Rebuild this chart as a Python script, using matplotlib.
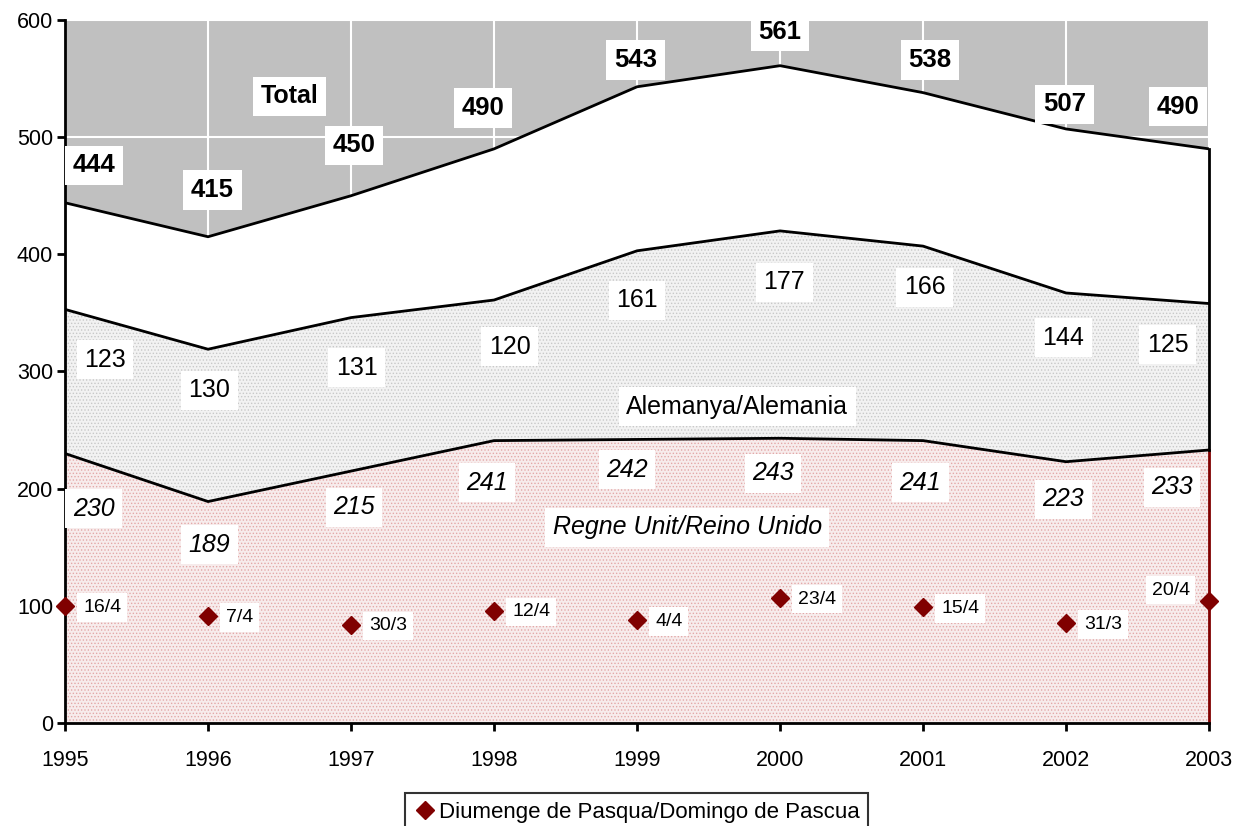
import matplotlib.pyplot as plt

plt.rcParams['font.family'] = ['Liberation Sans', 'DejaVu Sans']
plt.rcParams['hatch.linewidth'] = 0.6

years = [1995, 1996, 1997, 1998, 1999, 2000, 2001, 2002, 2003]
uk = [230, 189, 215, 241, 242, 243, 241, 223, 233]
germany = [123, 130, 131, 120, 161, 177, 166, 144, 125]
total = [444, 415, 450, 490, 543, 561, 538, 507, 490]
easter_val = [100, 91, 84, 96, 88, 107, 99, 85, 104]
easter_lbl = ['16/4', '7/4', '30/3', '12/4', '4/4', '23/4', '15/4', '31/3', '20/4']

# label positions (data coords)
total_lbl_pos = [(1995.2, 476), (1996.03, 455), (1997.02, 493), (1997.92, 525), (1998.99, 566),
                 (2000.0, 590), (2001.05, 566), (2001.99, 528), (2002.78, 526)]
de_lbl_pos = [(1995.28, 310), (1996.01, 284), (1997.04, 303), (1998.11, 321), (1999.0, 361),
              (2000.03, 376), (2001.01, 372), (2001.98, 329), (2002.71, 323)]
uk_lbl_pos = [(1995.2, 183), (1996.01, 152), (1997.02, 184), (1997.95, 205), (1998.93, 216),
              (1999.95, 213), (2000.98, 205), (2001.98, 191), (2002.74, 201)]

de_top = [u + g for u, g in zip(uk, germany)]

fig = plt.figure(figsize=(12.34, 8.26), dpi=100)
ax = fig.add_axes([0.0527, 0.1247, 0.9271, 0.8511])
ax.set_facecolor('#c0c0c0')
ax.set_xlim(1995, 2003)
ax.set_ylim(0, 600)
ax.grid(True, color='white', linewidth=1.5, zorder=0)
ax.set_axisbelow(True)

# stacked areas
ax.fill_between(years, 0, uk, facecolor='#f7ecec', edgecolor='#e3a8a8', hatch='.....',
                linewidth=0, zorder=2)
ax.fill_between(years, uk, de_top, facecolor='#f2f2f2', edgecolor='#c8c8c8', hatch='.....',
                linewidth=0, zorder=2)
ax.fill_between(years, de_top, total, facecolor='white', linewidth=0, zorder=2)

ax.plot(years, uk, color='black', linewidth=2, zorder=3)
ax.plot(years, de_top, color='black', linewidth=2, zorder=3)
ax.plot(years, total, color='black', linewidth=2, zorder=3)
ax.plot([2003, 2003], [0, uk[-1]], color='#800000', linewidth=2, zorder=3, clip_on=False)
ax.plot([2003, 2003], [uk[-1], total[-1]], color='black', linewidth=2, zorder=3, clip_on=False)

ax.plot(years, easter_val, linestyle='none', marker='D', markersize=9, color='#800000',
        clip_on=False, zorder=5, label='Diumenge de Pasqua/Domingo de Pascua')

box = dict(boxstyle='square,pad=0.3', facecolor='white', edgecolor='none')
for (x, y), v in zip(total_lbl_pos, total):
    ax.text(x, y, str(v), ha='center', va='center', fontsize=18.5, fontweight='bold', bbox=box, zorder=6)
for (x, y), v in zip(de_lbl_pos, germany):
    ax.text(x, y, str(v), ha='center', va='center', fontsize=18, bbox=box, zorder=6)
for (x, y), v in zip(uk_lbl_pos, uk):
    ax.text(x, y, str(v), ha='center', va='center', fontsize=18, style='italic', bbox=box, zorder=6)

ax.text(1996.57, 535, 'Total', ha='center', va='center', fontsize=18, fontweight='bold', bbox=box, zorder=6)
ax.text(1999.70, 270, 'Alemanya/Alemania', ha='center', va='center', fontsize=18, bbox=box, zorder=6)
ax.text(1999.35, 167, 'Regne Unit/Reino Unido', ha='center', va='center', fontsize=18,
        style='italic', bbox=box, zorder=6)

for i, (x, y, t) in enumerate(zip(years, easter_val, easter_lbl)):
    if i == len(years) - 1:
        ax.annotate(t, (x, y), xytext=(-14, 8), textcoords='offset points', ha='right',
                    va='center', fontsize=14, bbox=box, zorder=6)
    else:
        ax.annotate(t, (x, y), xytext=(13, -1), textcoords='offset points', ha='left',
                    va='center', fontsize=14, bbox=box, zorder=6)

ax.set_xticks(years)
ax.set_yticks(range(0, 601, 100))
ax.tick_params(direction='out', length=5.5, width=2, labelsize=15.5)
ax.tick_params(axis='x', pad=14)
ax.tick_params(axis='y', pad=3)
for side in ['top', 'right']:
    ax.spines[side].set_visible(False)
for side in ['left', 'bottom']:
    ax.spines[side].set_linewidth(2)
    ax.spines[side].set_zorder(4)

leg = fig.legend(loc='upper center', bbox_to_anchor=(0.516, 0.04), ncol=1, fontsize=16,
                 frameon=True, fancybox=False, handletextpad=0.1, handlelength=1.0,
                 borderpad=0.4, borderaxespad=0)
leg.get_frame().set_edgecolor('black')
leg.get_frame().set_linewidth(1.5)

fig.savefig('out.png', dpi=100)
